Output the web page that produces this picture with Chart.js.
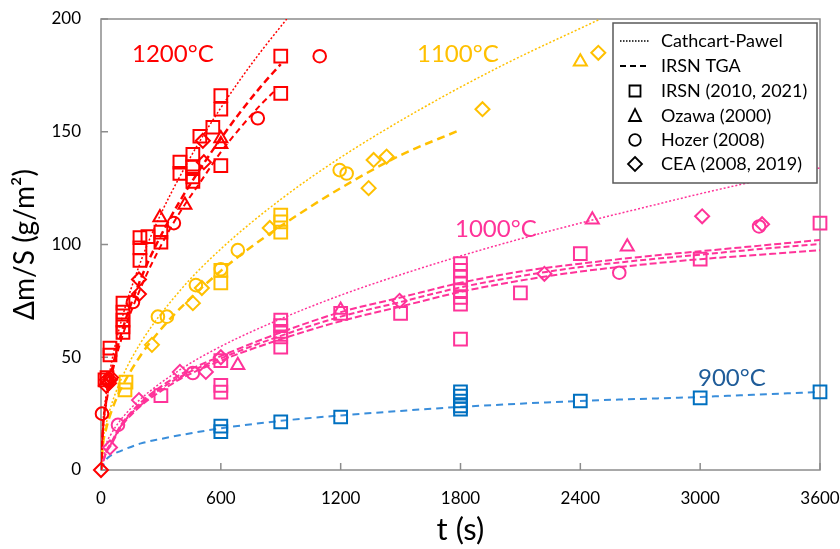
<!DOCTYPE html>
<html>
<head>
<meta charset="utf-8">
<title>Zircaloy oxidation weight gain</title>
<script src="https://cdn.jsdelivr.net/npm/chart.js@4.4.1/dist/chart.umd.min.js"></script>
<style>
  html, body { margin: 0; padding: 0; background: #fff; }
  #wrap { width: 840px; height: 549px; }
</style>
</head>
<body>
<div id="wrap"><canvas id="chart" width="840" height="549"></canvas></div>
<script>
// --- data: [t (s), dm/S (g/m2)] ---

const xTicks = [0, 600, 1200, 1800, 2400, 3000, 3600];
const yTicks = [0, 50, 100, 150, 200];

// 1200 C
const cp1200 = [[0,0],[10,20.7],[25,32.8],[50,46.4],[100,65.6],[200,92.7],[300,113.6],[400,131],[500,146.6],[600,160.6],[700,173.5],[800,185.5],[930,200]];
const tga1200a = [[0,0],[10,19],[25,30],[50,42.4],[100,60],[200,85],[300,104],[400,120],[500,134],[600,147],[700,159],[800,170],[900,180]];
const tga1200b = [[0,0],[10,18],[25,28.7],[50,40.6],[100,57.4],[200,81],[300,99.5],[400,115],[500,128],[600,141],[700,152],[800,162],[880,169]];
const irsn1200 = [[600,166],[600,160],[560,152],[495,148],[600,135],[395,136.5],[395,131.5],[460,140],[460,134.5],[460,130],[460,128],[900,183.5],[900,167],[300,105.5],[300,101],[235,103.5],[195,103],[195,98.5],[195,93],[110,74],[110,70],[110,66.5],[110,63.5],[110,61],[45,54],[45,51],[30,41],[20,40]];
const ozawa1200 = [[600,147],[600,144.5],[420,117.5],[295,112]];
const hozer1200 = [[5,25],[160,74.5],[365,109.5],[785,156],[1095,183.5]];
const cea1200 = [[0,0],[510,146],[515,136.5],[190,84.5],[190,78],[30,40],[40,38.5],[50,41],[25,37.5],[45,40]];

// 1100 C
const cp1100 = [[0,0],[10,12.6],[25,20],[50,28.3],[100,40],[200,56.6],[400,80],[600,98],[900,120],[1200,138.6],[1600,160],[2000,179],[2500,200]];
const tga1100 = [[0,0],[10,11.4],[25,18],[50,25.5],[100,36],[200,51],[300,62.4],[400,72],[600,88.3],[800,102],[1000,114],[1200,125],[1500,139.6],[1790,150.5]];
const irsn1100 = [[900,113],[900,110],[900,105.5],[600,88.5],[600,83],[125,39],[120,35.5]];
const ozawa1100 = [[2400,181]];
const hozer1100 = [[1195,133],[1230,131.5],[685,97.5],[600,89],[475,82],[285,68],[330,68]];
const cea1100 = [[1910,160],[1365,137.5],[1430,139],[1340,125],[845,107.3],[505,80.7],[460,74],[255,55.5],[2490,185]];

// 1000 C
const cp1000 = [[0,0],[25,11.2],[50,15.8],[100,22.4],[200,31.6],[400,44.7],[600,54.8],[900,67],[1200,77.5],[1500,86.6],[1800,94.9],[2100,102.5],[2400,109.5],[2700,116],[3000,122.5],[3300,128.5],[3600,134]];
const tga1000a = [[0,0],[25,8],[50,12],[100,20],[200,30],[300,37],[400,42.5],[600,50.5],[900,61],[1200,70],[1500,76.5],[1800,83],[2100,88],[2400,91.5],[2700,94.5],[3000,97],[3300,99.5],[3600,102]];
const tga1000b = [[0,0],[25,7.8],[50,11.5],[100,19.5],[200,29.2],[300,36],[400,41.5],[600,49.5],[900,59.5],[1200,68],[1500,74.5],[1800,81],[2100,86],[2400,90],[2700,93],[3000,95.5],[3300,98],[3600,100.2]];
const tga1000c = [[0,0],[25,7.5],[50,11],[100,19],[200,28.5],[300,35],[400,40.5],[600,48.5],[900,58],[1200,66],[1500,72.5],[1800,79],[2100,84],[2400,88],[2700,91],[3000,93.5],[3300,95.5],[3600,97.5]];
const irsn1000 = [[1200,69.5],[1500,69.5],[1800,91.5],[1800,88.5],[1800,85.5],[1800,82.5],[1800,79.5],[1800,76.5],[1800,73.5],[1800,58],[2100,78.5],[2400,96],[3000,93.5],[3600,109.5],[900,66.5],[900,64],[900,61.5],[900,59],[900,54.5],[600,48.5],[600,37.5],[600,34.5],[300,33]];
const ozawa1000 = [[2460,111],[2635,99],[1200,71],[685,46.5]];
const hozer1000 = [[2595,87.5],[3295,108],[460,43],[85,20]];
const cea1000 = [[3010,112.5],[3310,109],[2220,87],[1495,75],[395,43.5],[525,43.5],[600,50],[190,31],[45,10]];

// 900 C
const tga900 = [[0,0],[25,4.5],[50,6.5],[100,8.5],[200,11.8],[300,13.8],[450,16.3],[600,18.5],[900,21.8],[1200,24.2],[1500,26.2],[1800,28],[2400,30.6],[3000,32.4],[3600,34.6]];
const irsn900 = [[600,19.5],[600,17],[900,21.3],[1200,23.5],[1800,34.6],[1800,32.8],[1800,30.6],[1800,28.4],[1800,27],[2400,30.6],[3000,32],[3600,34.6]];

const tempLabels = ['1200°C', '1100°C', '1000°C', '900°C'];
const legendLabels = ['Cathcart-Pawel', 'IRSN TGA', 'IRSN (2010, 2021)', 'Ozawa (2000)', 'Hozer (2008)', 'CEA (2008, 2019)'];

const RED = '#FF0000', GOLD = '#FFC000', PINK = '#FF3399', BLUE = '#0070C0', BLUE_LINE = '#3A8EDB', BLUE_TEXT = '#1F5C99';
const AXIS = '#8C8C8C';
const FONT = 'Lato, "Open Sans", sans-serif';

function pts(arr) {
    return arr.map(([x, y]) => ({ x, y }));
}

const SIZE = { rect: 9, triangle: 7.5, circle: 6.3, rectRot: 7 };

function markers(label, arr, color, style) {
    return {
        label,
        data: pts(arr),
        showLine: false,
        pointStyle: style,
        pointRadius: SIZE[style],
        pointHoverRadius: SIZE[style],
        pointBorderColor: color,
        pointBackgroundColor: 'rgba(0,0,0,0)',
        pointBorderWidth: 2,
        clip: false
    };
}

function curve(label, arr, color, dash, width) {
    return {
        label,
        data: pts(arr),
        showLine: true,
        borderColor: color,
        borderWidth: width,
        borderDash: dash,
        pointRadius: 0,
        cubicInterpolationMode: 'monotone',
        fill: false
    };
}

const DOT = [2, 2];

// markers first so they sit on top of the curves
const datasets = [
    markers('IRSN 1200', irsn1200, RED, 'rect'),
    markers('Ozawa 1200', ozawa1200, RED, 'triangle'),
    markers('Hozer 1200', hozer1200, RED, 'circle'),
    markers('CEA 1200', cea1200, RED, 'rectRot'),
    markers('IRSN 1100', irsn1100, GOLD, 'rect'),
    markers('Ozawa 1100', ozawa1100, GOLD, 'triangle'),
    markers('Hozer 1100', hozer1100, GOLD, 'circle'),
    markers('CEA 1100', cea1100, GOLD, 'rectRot'),
    markers('IRSN 1000', irsn1000, PINK, 'rect'),
    markers('Ozawa 1000', ozawa1000, PINK, 'triangle'),
    markers('Hozer 1000', hozer1000, PINK, 'circle'),
    markers('CEA 1000', cea1000, PINK, 'rectRot'),
    markers('IRSN 900', irsn900, BLUE, 'rect'),

    curve('CP 1200', cp1200, RED, DOT, 1.5),
    curve('TGA 1200 a', tga1200a, RED, [7, 4], 2.5),
    curve('TGA 1200 b', tga1200b, RED, [6, 4], 2),
    curve('CP 1100', cp1100, GOLD, DOT, 1.5),
    curve('TGA 1100', tga1100, GOLD, [8, 5], 2.5),
    curve('CP 1000', cp1000, PINK, DOT, 1.5),
    curve('TGA 1000 a', tga1000a, PINK, [7, 3], 2),
    curve('TGA 1000 b', tga1000b, PINK, [6, 3], 2),
    curve('TGA 1000 c', tga1000c, PINK, [7, 3], 2),
    curve('TGA 900', tga900, BLUE_LINE, [7, 5], 2)
];

// plot frame + inward tick marks
const framePlugin = {
    id: 'frame',
    beforeDatasetsDraw(chart) {
        const { ctx, chartArea: a, scales } = chart;
        ctx.save();
        ctx.strokeStyle = AXIS;
        ctx.lineWidth = 1.5;
        ctx.strokeRect(a.left, a.top, a.right - a.left, a.bottom - a.top);
        ctx.beginPath();
        xTicks.forEach(t => {
            const px = scales.x.getPixelForValue(t);
            ctx.moveTo(px, a.bottom);
            ctx.lineTo(px, a.bottom - 7);
        });
        yTicks.forEach(v => {
            const py = scales.y.getPixelForValue(v);
            ctx.moveTo(a.left, py);
            ctx.lineTo(a.left + 7, py);
        });
        ctx.stroke();
        ctx.restore();
    }
};

// temperature labels inside the plot
const labelPlugin = {
    id: 'tempLabels',
    afterDatasetsDraw(chart) {
        const { ctx } = chart;
        const spots = [[132, 62, RED], [417, 62, GOLD], [455, 237, PINK], [698, 386, BLUE_TEXT]];
        ctx.save();
        ctx.font = '24px ' + FONT;
        ctx.textBaseline = 'alphabetic';
        tempLabels.forEach((txt, i) => {
            ctx.fillStyle = spots[i][2];
            ctx.fillText(txt, spots[i][0], spots[i][1]);
        });
        ctx.restore();
    }
};

function drawSymbol(ctx, kind, x, y) {
    ctx.beginPath();
    if (kind === 'dot' || kind === 'dash') {
        ctx.setLineDash(kind === 'dot' ? [1.5, 1.5] : [6, 4]);
        ctx.lineWidth = kind === 'dot' ? 1.5 : 2;
        ctx.moveTo(x - 15, y);
        ctx.lineTo(x + 15, y);
        ctx.stroke();
        ctx.setLineDash([]);
        return;
    }
    ctx.lineWidth = 1.8;
    if (kind === 'rect') ctx.rect(x - 5.5, y - 5.5, 11, 11);
    if (kind === 'triangle') { ctx.moveTo(x, y - 7); ctx.lineTo(x + 6, y + 5); ctx.lineTo(x - 6, y + 5); ctx.closePath(); }
    if (kind === 'circle') ctx.arc(x, y, 5.8, 0, Math.PI * 2);
    if (kind === 'rectRot') { ctx.moveTo(x, y - 7); ctx.lineTo(x + 7, y); ctx.lineTo(x, y + 7); ctx.lineTo(x - 7, y); ctx.closePath(); }
    ctx.stroke();
}

const legendPlugin = {
    id: 'boxLegend',
    afterDraw(chart) {
        const { ctx } = chart;
        const kinds = ['dot', 'dash', 'rect', 'triangle', 'circle', 'rectRot'];
        const rows = [41, 66, 91, 116, 140, 164];
        ctx.save();
        ctx.fillStyle = '#fff';
        ctx.fillRect(613, 23, 204, 160);
        ctx.strokeStyle = '#595959';
        ctx.lineWidth = 1.5;
        ctx.strokeRect(613, 23, 204, 160);
        ctx.strokeStyle = '#000';
        ctx.fillStyle = '#000';
        ctx.font = '18px ' + FONT;
        ctx.textBaseline = 'middle';
        legendLabels.forEach((txt, i) => {
            drawSymbol(ctx, kinds[i], 635, rows[i]);
            ctx.fillText(txt, 661, rows[i]);
        });
        ctx.restore();
    }
};

Chart.defaults.font.family = FONT;
Chart.defaults.color = '#000';

new Chart(document.getElementById('chart'), {
    type: 'scatter',
    data: { datasets },
    options: {
        responsive: false,
        animation: false,
        devicePixelRatio: 1,
        layout: { padding: { top: 19, right: 20, left: 0, bottom: 0 } },
        scales: {
            x: {
                type: 'linear',
                min: 0,
                max: 3600,
                afterBuildTicks: s => { s.ticks = xTicks.map(v => ({ value: v })); },
                afterFit: s => { s.height = 79; s.paddingLeft = 0; s.paddingRight = 0; },
                grid: { display: false, drawTicks: false },
                border: { display: false },
                ticks: { font: { size: 17 }, padding: 18, maxRotation: 0, callback: v => String(v) },
                title: { display: true, text: 't (s)', font: { size: 31 }, padding: { top: 0, bottom: 0 } }
            },
            y: {
                type: 'linear',
                min: 0,
                max: 200,
                afterBuildTicks: s => { s.ticks = yTicks.map(v => ({ value: v })); },
                afterFit: s => { s.width = 101; s.paddingTop = 0; s.paddingBottom = 0; },
                grid: { display: false, drawTicks: false },
                border: { display: false },
                ticks: { font: { size: 17 }, padding: 20, callback: v => String(v) },
                title: { display: true, text: 'Δm/S (g/m²)', font: { size: 28 }, padding: { top: 8, bottom: 0 } }
            }
        },
        plugins: {
            legend: { display: false },
            tooltip: { enabled: false }
        }
    },
    plugins: [framePlugin, labelPlugin, legendPlugin]
});
</script>
</body>
</html>
